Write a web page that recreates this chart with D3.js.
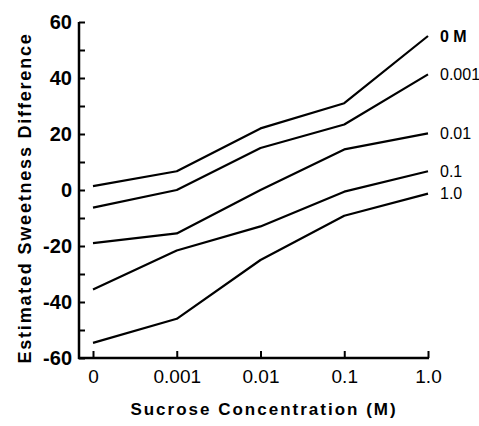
<!DOCTYPE html>
<html>
<head>
<meta charset="utf-8">
<script src="https://cdn.jsdelivr.net/npm/d3@7"></script>
<style>
  body { margin: 0; background: #fff; }
  svg text { font-family: "Liberation Sans", Arial, sans-serif; fill: #000; }
</style>
</head>
<body>
<div class="render"></div>
<script>
// Sucrose concentration on the x axis (one point per step)
var concentrations = ["0", "0.001", "0.01", "0.1", "1.0"];

// one line per concentration of the other solution
var seriesNames = ["0 M", "0.001", "0.01", "0.1", "1.0"];
var s0M    = [1.4, 6.7, 22, 31, 55];
var s0001  = [-6.3, 0, 15, 23.4, 41.3];
var s001   = [-19, -15.5, 0, 14.5, 20.2];
var s01    = [-35.5, -21.6, -13, -0.6, 6.7];
var s10    = [-54.6, -46, -25, -9.2, -1.3];

var yTicks = [-60, -50, -40, -30, -20, -10, 0, 10, 20, 30, 40, 50, 60];

var width = 479, height = 426;

var svg = d3.select(".render").append("svg")
    .attr("width", width)
    .attr("height", height);

var x = d3.scalePoint()
    .domain(concentrations)
    .range([93, 428]);

var y = d3.scaleLinear()
    .domain([-60, 60])
    .range([358, 22]);

// left axis, ticks pointing inward
var yAxis = d3.axisLeft(y)
    .tickValues(yTicks)
    .tickSize(-6)
    .tickPadding(7)
    .tickFormat(function (d) { return d % 20 ? "" : String(d); });

var gy = svg.append("g")
    .attr("transform", "translate(79,0)")
    .call(yAxis);
gy.select(".domain")
    .attr("d", "M0," + y(60) + "V" + (y(-60) + 1))
    .attr("stroke-width", 2.5);
gy.selectAll(".tick line").attr("stroke-width", 2);
gy.selectAll(".tick text")
    .attr("font-size", 20)
    .attr("font-weight", "bold");

// bottom axis, ticks pointing up
var xAxis = d3.axisBottom(x)
    .tickSize(-7)
    .tickPadding(9)
    .tickFormat(function (d) { return d; });

var gx = svg.append("g")
    .attr("transform", "translate(0," + y(-60) + ")")
    .call(xAxis);
gx.select(".domain")
    .attr("d", "M78,0H" + (x("1.0") + 1))
    .attr("stroke-width", 2.5);
gx.selectAll(".tick line").attr("stroke-width", 2);
gx.selectAll(".tick text")
    .attr("font-size", 19)
    .attr("dy", "0.85em");

// the five curves
var allSeries = [s0M, s0001, s001, s01, s10];
var line = d3.line()
    .x(function (d, i) { return x(concentrations[i]); })
    .y(function (d) { return y(d); });

svg.append("g").selectAll("path")
    .data(allSeries)
    .enter().append("path")
      .attr("fill", "none")
      .attr("stroke", "#000")
      .attr("stroke-width", 2.2)
      .attr("stroke-linejoin", "round")
      .attr("d", line);

// series labels at the right end
svg.append("g").selectAll("text")
    .data(allSeries)
    .enter().append("text")
      .attr("x", x("1.0") + 12)
      .attr("y", function (d) { return y(d[d.length - 1]); })
      .attr("dy", "0.35em")
      .attr("font-size", 16)
      .attr("font-weight", function (d, i) { return i == 0 ? "bold" : "normal"; })
      .text(function (d, i) { return seriesNames[i]; });

// axis titles
svg.append("text")
    .attr("x", 264)
    .attr("y", 415)
    .attr("text-anchor", "middle")
    .attr("font-size", 17)
    .attr("font-weight", "bold")
    .attr("letter-spacing", 2)
    .text("Sucrose Concentration  (M)");

svg.append("text")
    .attr("transform", "translate(31,198) rotate(-90)")
    .attr("text-anchor", "middle")
    .attr("font-size", 18)
    .attr("font-weight", "bold")
    .attr("letter-spacing", 1.8)
    .text("Estimated Sweetness Difference");
</script>
</body>
</html>
